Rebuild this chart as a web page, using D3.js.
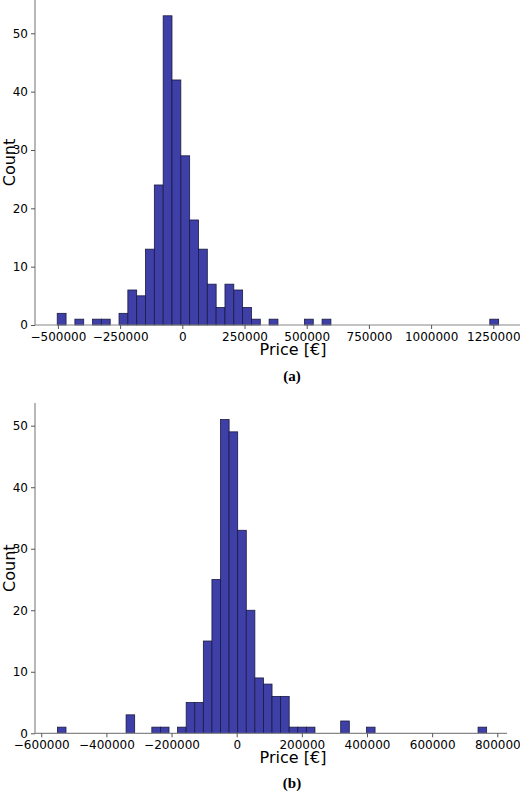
<!DOCTYPE html>
<html><head><meta charset="utf-8">
<script src="https://cdn.jsdelivr.net/npm/d3@7"></script>
<style>body{margin:0;background:#fff}</style>
</head><body>
<svg id="chart" width="520" height="791"></svg>
<script>
// Histogram (a)
var binStartA = -502700, binWidthA = 35484;
var countsA = [2,0,1,0,1,1,0,2,6,5,13,24,53,42,29,18,13,7,3,7,6,3,1,0,1,0,0,0,1,0,1,
    0,0,0,0,0,0,0,0,0,0,0,0,0,0,0,0,0,0,1];
var ticksXA = [-500000,-250000,0,250000,500000,750000,1000000,1250000];

// Histogram (b)
var binStartB = -550400, binWidthB = 26354;
var countsB = [1,0,0,0,0,0,0,0,3,0,0,1,1,0,1,5,5,15,25,51,49,33,20,9,8,6,6,1,1,1,0,0,0,2,0,0,1,
    0,0,0,0,0,0,0,0,0,0,0,0,1];
var ticksXB = [-600000,-400000,-200000,0,200000,400000,600000,800000];
var ticksY = [0,10,20,30,40,50];

var svg = d3.select('#chart');

function drawHist(cfg) {
    var g = svg.append("g");
    var x = d3.scaleLinear().domain(cfg.xd).range(cfg.xr);
    var y = d3.scaleLinear().domain([0, 50]).range([cfg.y0, cfg.y50]);
    var bins = cfg.counts.map(function (c, i) {
        return { x0: cfg.start + i * cfg.width, x1: cfg.start + (i + 1) * cfg.width, c: c };
    }).filter(function (d) { return d.c > 0; });

    g.selectAll("rect").data(bins).enter().append("rect")
        .attr("x", function (d) { return x(d.x0); })
        .attr("width", function (d) { return x(d.x1) - x(d.x0); })
        .attr("y", function (d) { return y(d.c); })
        .attr("height", function (d) { return y(0) - y(d.c); })
        .attr("fill", "#3f3fa8")
        .attr("stroke", "#1a1a40")
        .attr("stroke-width", 0.8);

    var ax = g.append("g").attr("transform", "translate(0," + cfg.y0 + ")")
        .call(d3.axisBottom(x).tickValues(cfg.ticks).tickSize(4).tickFormat(d3.format("d")));
    ax.select(".domain").attr("d", "M" + cfg.axL + ",0H" + cfg.axR);
    var ay = g.append("g").attr("transform", "translate(" + cfg.axL + ",0)")
        .call(d3.axisLeft(y).tickValues(ticksY).tickSize(4));
    ay.select(".domain").attr("d", "M0," + cfg.top + "V" + cfg.y0);
    g.selectAll(".domain").attr("stroke", "#888").attr("stroke-width", 1.2);
    g.selectAll(".tick line").attr("stroke", "#555");
    g.selectAll(".tick text").attr("font-family", "DejaVu Sans").attr("font-size", 12).attr("fill", "#000")
        .text(function (d) { return d < 0 ? "\u2212" + Math.abs(d) : d; });

    g.append("text").attr("x", 293).attr("y", cfg.y0 + cfg.labDy)
        .attr("text-anchor", "middle").attr("font-family", "DejaVu Sans").attr("font-size", 16)
        .text("Price [\u20ac]");
    g.append("text").attr("transform", "translate(15," + ((cfg.top + cfg.y0) / 2) + ") rotate(-90)")
        .attr("text-anchor", "middle").attr("font-family", "DejaVu Sans").attr("font-size", 16)
        .text("Count");
    g.append("text").attr("x", 292).attr("y", cfg.y0 + cfg.capDy)
        .attr("text-anchor", "middle").attr("font-family", "Liberation Serif").attr("font-weight", "bold")
        .attr("font-size", 15).text(cfg.label);
}

drawHist({ counts: countsA, start: binStartA, width: binWidthA, xd: [0, 1250000], xr: [182.3, 493.3],
    y0: 325, y50: 33.3, top: 0, axL: 35, axR: 520, ticks: ticksXA, label: "(a)", labDy: 30, capDy: 56 });
drawHist({ counts: countsB, start: binStartB, width: binWidthB, xd: [0, 800000], xr: [236.7, 497.3],
    y0: 733.3, y50: 425.7, top: 403, axL: 35, axR: 507, ticks: ticksXB, label: "(b)", labDy: 30, capDy: 55 });
</script>
</body></html>
